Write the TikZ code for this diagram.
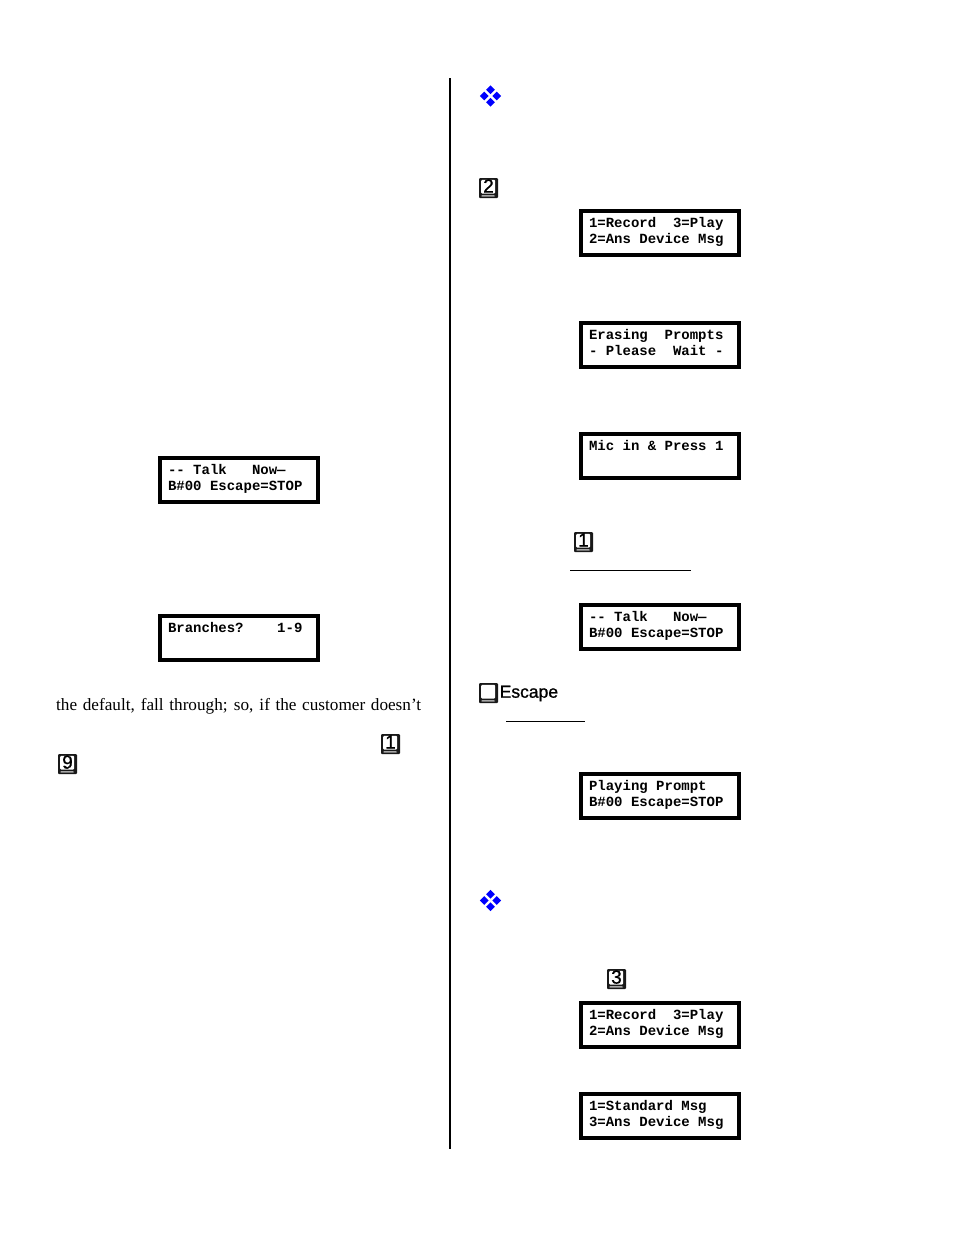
\documentclass[tikz,border=0pt]{standalone}
\usepackage{fontspec}
\setmainfont{Liberation Serif}
\setsansfont{Liberation Sans}
\setmonofont{Liberation Mono}
\newfontfamily\keyfont[FakeBold=1]{Liberation Sans}
\usetikzlibrary{shapes.geometric}

\newcommand{\lcd}[2]{\strut#1\\\strut#2\rule[-5.8pt]{0pt}{0pt}}

\tikzset{
	lcdbox/.style={draw,line width=4pt,minimum width=158pt,minimum height=44pt,inner xsep=8pt,inner ysep=0pt,text width=142pt,align=flush left,font=\fontsize{14}{15.8}\selectfont\ttfamily\bfseries},
	keycap/.style={minimum width=19pt,minimum height=20pt,inner sep=0pt,rounded corners=1pt,fill=black!90,text depth=4pt,font=\fontsize{19}{19}\selectfont\keyfont,
		path picture={
			\fill[white]([shift={(2.2pt,4.5pt)}]path picture bounding box.south west) rectangle ([shift={(-2.8pt,-1.8pt)}]path picture bounding box.north east);
			\fill[black!35]([shift={(2.2pt,1.3pt)}]path picture bounding box.south west) rectangle ([shift={(-2.8pt,2.8pt)}]path picture bounding box.south east);
		}},
	gem/.style={diamond,fill=blue,inner sep=0pt,minimum size=9pt}
}

\begin{document}
\begin{tikzpicture}[x=1pt,y=-1pt]
	\useasboundingbox (0,0) rectangle (954,1235);

	\coordinate (TOP) at (450,78);
	\coordinate (BOT) at (450,1149);
	\draw[line width=2pt](TOP)--(BOT);

	% left column
	\node[lcdbox] (talkL) at (239,480) {\lcd{-- Talk~~~Now—}{B\#00 Escape=STOP}};
	\node[lcdbox] (branch) at (239,638) {\lcd{Branches?~~~~1-9}{}};

	\node[anchor=base west,inner sep=0pt,font=\fontsize{17.2}{20}\selectfont] (fall) at (56,710) {\makebox[365pt][s]{the default, fall through; so, if the customer doesn’t}};

	\node[keycap] (keyA) at (390.5,744) {1};
	\node[keycap] (keyB) at (67.5,764) {9};

	% right column
	\foreach \y/\n in {96/gemA,900.5/gemB}{
		\node[gem] (\n N) at (490.5,\y-6.3) {};
		\node[gem] (\n S) at (490.5,\y+6.3) {};
		\node[gem] (\n W) at (484.2,\y) {};
		\node[gem] (\n E) at (496.8,\y) {};
	}

	\node[keycap] (keyC) at (488.5,188) {2};
	\node[lcdbox] (menuA) at (660,233) {\lcd{1=Record~~3=Play}{2=Ans Device Msg}};
	\node[lcdbox] (erase) at (660,345) {\lcd{Erasing~~Prompts}{- Please~~Wait -}};
	\node[lcdbox] (mic) at (660,456) {\lcd{Mic in \& Press 1}{}};

	\node[keycap] (keyD) at (583.5,542) {1};
	\coordinate (RA) at (570,570.5);
	\coordinate (RB) at (691,570.5);
	\draw[line width=.8pt](RA)--(RB);

	\node[lcdbox] (talkR) at (660,627) {\lcd{-- Talk~~~Now—}{B\#00 Escape=STOP}};

	\node[keycap] (keyE) at (488.5,693) {};
	\node[anchor=west,inner sep=0pt,font=\fontsize{17.5}{20}\selectfont\keyfont] (esc) at (499.5,693.5) {Escape};
	\coordinate (RC) at (506,721);
	\coordinate (RD) at (585,721);
	\draw[line width=.8pt](RC)--(RD);

	\node[lcdbox] (play) at (660,796) {\lcd{Playing Prompt}{B\#00 Escape=STOP}};

	\node[keycap] (keyF) at (616.5,979) {3};
	\node[lcdbox] (menuB) at (660,1025) {\lcd{1=Record~~3=Play}{2=Ans Device Msg}};
	\node[lcdbox] (std) at (660,1116) {\lcd{1=Standard Msg}{3=Ans Device Msg}};
\end{tikzpicture}
\end{document}
